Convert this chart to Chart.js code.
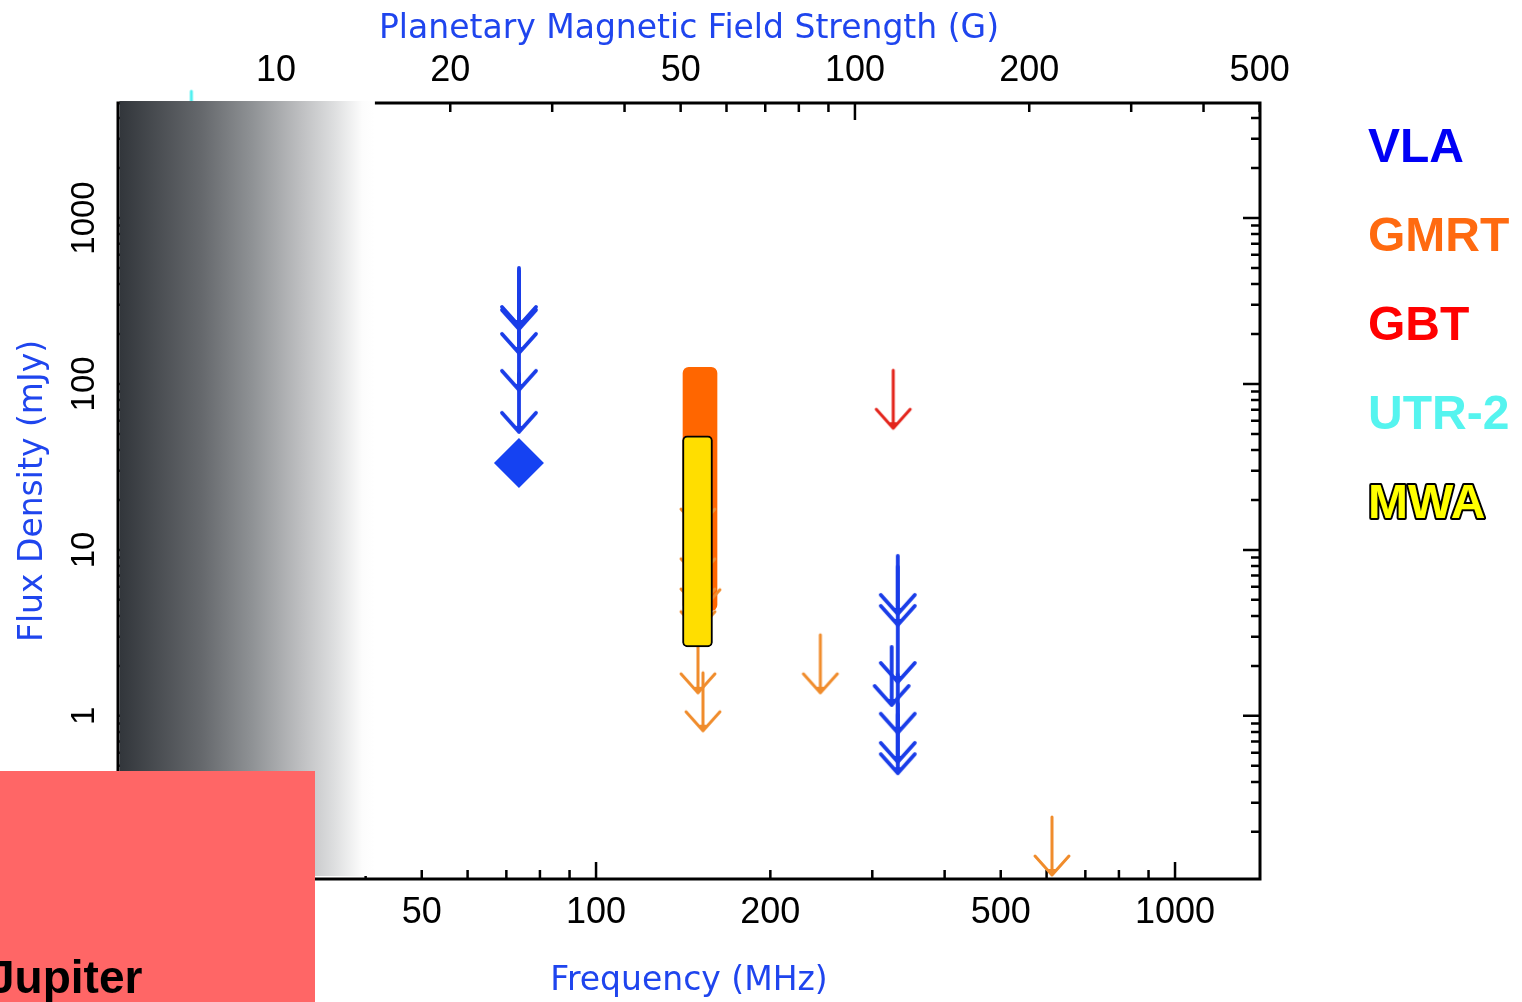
<!DOCTYPE html>
<html>
<head>
<meta charset="utf-8">
<title>Planetary radio emission limits</title>
<script src="https://cdn.jsdelivr.net/npm/chart.js@4.4.1/dist/chart.umd.min.js"></script>
<style>
  html, body { margin: 0; padding: 0; background: #fff; }
  #chart { display: block; }
</style>
</head>
<body>
<canvas id="chart" width="1522" height="1002"></canvas>
<script>
// axis ranges
const freqMin = 14.94;      // MHz
const freqMax = 1402;
const mhzPerGauss = 2.8;    // cyclotron frequency per gauss
const fluxMin = 0.104;      // mJy
const fluxMax = 4930;
const shadeEndFreq = 41.5;  // grey band ends here

// tick labels and tick marks
const freqTickLabels = [20, 50, 100, 200, 500, 1000];
const fieldTickLabels = [10, 20, 50, 100, 200, 500];
const fluxTickLabels = [1, 10, 100, 1000];
const freqTickMarks = [20, 30, 40, 50, 60, 70, 80, 90, 100, 200, 300, 400, 500, 600, 700, 800, 900, 1000];
const fieldTickMarks = [6, 7, 8, 9, 10, 20, 30, 40, 50, 60, 70, 80, 90, 100, 200, 300, 400, 500];
const fluxTickMarks = [0.2, 0.3, 0.4, 0.5, 0.6, 0.7, 0.8, 0.9, 1, 2, 3, 4, 5, 6, 7, 8, 9,
  10, 20, 30, 40, 50, 60, 70, 80, 90, 100, 200, 300, 400, 500, 600, 700, 800, 900, 1000, 2000, 3000, 4000];

// legend
const instruments = ['VLA', 'GMRT', 'GBT', 'UTR-2', 'MWA'];
const instrumentColors = ['#0000f5', '#ff6a10', '#ff0000', '#55f4ef', '#ffff00'];

// VLA: upper limits and one detection
const vlaLimitFreq = [73.6, 73.6, 73.6, 73.6, 73.6, 332, 332, 332, 332, 332, 332, 324];
const vlaLimitFlux = [500, 479, 344, 206, 115, 9.2, 7.9, 3.58, 1.77, 1.18, 1.01, 2.6];
const vlaDetFreq = [73.6];
const vlaDetFlux = [33.4];

// GMRT: upper limits and the 150 MHz range
const gmrtLimitFreq = [150, 150, 150, 150, 153, 150, 153, 244, 613];
const gmrtLimitFlux = [30.3, 15.2, 10.0, 7.3, 9.9, 3.08, 1.82, 3.08, 0.246];
const gmrtRangeFreq = [151.2];
const gmrtRangeFlux = [[4.3, 126]];

// GBT and UTR-2 upper limits
const gbtLimitFreq = [326];
const gbtLimitFlux = [121];
const utrLimitFreq = [20];
const utrLimitFlux = [5800];

// MWA range
const mwaRangeFreq = [149.7];
const mwaRangeFlux = [[2.6, 48.6]];

const titleBlue = '#1f45ee';
const titleFont = { family: '"DejaVu Sans", sans-serif', size: 33 };
const tickFont = { family: '"Liberation Sans", Arial, sans-serif', size: 36 };

const pairs = (xs, ys) => xs.map((x, i) => ({ x: x, y: ys[i] }));

// downward arrow for upper limits, the limit sits at the centre of the canvas
function arrowGlyph(color, width) {
  const len = 58, half = 17, headLen = 19;
  const c = document.createElement('canvas');
  c.width = 44;
  c.height = 2 * (len + 4);
  const g = c.getContext('2d');
  const cx = c.width / 2, cy = c.height / 2;
  g.strokeStyle = color;
  g.fillStyle = color;
  g.lineWidth = width;
  g.lineCap = 'round';
  g.lineJoin = 'round';
  g.beginPath();
  g.moveTo(cx, cy);
  g.lineTo(cx, cy + len);
  g.moveTo(cx - half, cy + len - headLen);
  g.lineTo(cx, cy + len);
  g.lineTo(cx + half, cy + len - headLen);
  g.stroke();
  // small solid tip
  g.beginPath();
  g.moveTo(cx, cy + len + 1);
  g.lineTo(cx - 4.5, cy + len - 6);
  g.lineTo(cx + 4.5, cy + len - 6);
  g.closePath();
  g.fill();
  return c;
}

const isDecade = v => Math.abs(Math.log10(v) - Math.round(Math.log10(v))) < 1e-9;

// inward tick marks and the frame
const tickMarks = {
  id: 'tickMarks',
  beforeDatasetsDraw(chart) {
    const { ctx, chartArea: a, scales } = chart;
    const len = v => (isDecade(v) ? 17 : 9);
    ctx.save();
    ctx.strokeStyle = '#000';
    ctx.lineWidth = 2.5;
    ctx.beginPath();
    freqTickMarks.forEach(v => {
      const px = scales.x.getPixelForValue(v);
      ctx.moveTo(px, a.bottom);
      ctx.lineTo(px, a.bottom - len(v));
    });
    fieldTickMarks.forEach(v => {
      const px = scales.x2.getPixelForValue(v);
      ctx.moveTo(px, a.top);
      ctx.lineTo(px, a.top + len(v));
    });
    fluxTickMarks.forEach(v => {
      const py = scales.y.getPixelForValue(v);
      ctx.moveTo(a.left, py);
      ctx.lineTo(a.left + len(v), py);
      ctx.moveTo(a.right, py);
      ctx.lineTo(a.right - len(v), py);
    });
    ctx.stroke();
    ctx.lineWidth = 3;
    ctx.strokeRect(a.left, a.top, a.right - a.left, a.bottom - a.top);
    ctx.restore();
  }
};

// grey band, Jupiter box and the instrument legend
const overlays = {
  id: 'overlays',
  afterDatasetsDraw(chart) {
    const { ctx, chartArea: a, scales } = chart;
    const x0 = a.left + 1.5;
    const x1 = scales.x.getPixelForValue(shadeEndFreq);
    const grad = ctx.createLinearGradient(x0, 0, x1, 0);
    grad.addColorStop(0, 'rgb(50,54,59)');
    grad.addColorStop(0.32, 'rgb(101,104,108)');
    grad.addColorStop(0.52, 'rgb(143,146,149)');
    grad.addColorStop(0.71, 'rgb(190,191,193)');
    grad.addColorStop(0.84, 'rgb(221,222,223)');
    grad.addColorStop(0.95, 'rgb(252,252,252)');
    grad.addColorStop(1, '#ffffff');
    ctx.save();
    ctx.fillStyle = grad;
    ctx.fillRect(x0, a.top - 2, x1 - x0, a.bottom - a.top - 1);
    ctx.restore();
  },
  afterDraw(chart) {
    const { ctx } = chart;
    ctx.save();
    ctx.fillStyle = '#ff6666';
    ctx.fillRect(0, 771, 315, 231);
    ctx.fillStyle = '#000';
    ctx.font = 'bold 46px "Liberation Sans", Arial, sans-serif';
    ctx.textBaseline = 'alphabetic';
    ctx.fillText('Jupiter', -11, 993);

    ctx.font = 'bold 48px "Liberation Sans", Arial, sans-serif';
    instruments.forEach((name, i) => {
      const y = 162 + i * 89;
      if (name === 'MWA') {
        ctx.lineWidth = 4;
        ctx.lineJoin = 'round';
        ctx.strokeStyle = '#000';
        ctx.strokeText(name, 1368, y);
      }
      ctx.fillStyle = instrumentColors[i];
      ctx.fillText(name, 1368, y);
    });
    ctx.restore();
  }
};

new Chart(document.getElementById('chart'), {
  type: 'scatter',
  data: {
    datasets: [
      {
        label: 'MWA', type: 'bar',
        data: pairs(mwaRangeFreq, mwaRangeFlux),
        backgroundColor: '#ffde00', borderColor: '#000', borderWidth: 2,
        borderRadius: 5, borderSkipped: false, barThickness: 30, grouped: false, order: 0
      },
      {
        label: 'GMRT limits',
        data: pairs(gmrtLimitFreq, gmrtLimitFlux),
        pointStyle: arrowGlyph('#f08c2c', 3), pointRadius: 30, clip: false, order: 1
      },
      {
        label: 'GMRT', type: 'bar',
        data: pairs(gmrtRangeFreq, gmrtRangeFlux),
        backgroundColor: '#ff6600', borderWidth: 0,
        borderRadius: 6, borderSkipped: false, barThickness: 34, grouped: false, order: 2
      },
      {
        label: 'VLA detection',
        data: pairs(vlaDetFreq, vlaDetFlux),
        pointStyle: 'rectRot', pointRadius: 25, backgroundColor: '#1542f2', borderWidth: 0, order: 3
      },
      {
        label: 'VLA limits',
        data: pairs(vlaLimitFreq, vlaLimitFlux),
        pointStyle: arrowGlyph('#1a3de8', 3.8), pointRadius: 30, clip: false, order: 4
      },
      {
        label: 'GBT limits',
        data: pairs(gbtLimitFreq, gbtLimitFlux),
        pointStyle: arrowGlyph('#e3241b', 3), pointRadius: 30, clip: false, order: 5
      },
      {
        label: 'UTR-2 limits',
        data: pairs(utrLimitFreq, utrLimitFlux),
        pointStyle: arrowGlyph('#4ff0f0', 3), pointRadius: 40, clip: false, order: 6
      }
    ]
  },
  options: {
    responsive: false,
    animation: false,
    events: [],
    layout: { padding: { left: 0, top: 0, right: 262, bottom: 0 } },
    plugins: { legend: { display: false }, tooltip: { enabled: false } },
    scales: {
      x: {
        type: 'logarithmic', position: 'bottom', min: freqMin, max: freqMax, offset: false,
        grid: { display: false, drawTicks: false, offset: false },
        border: { display: false },
        afterBuildTicks: s => { s.ticks = freqTickLabels.map(v => ({ value: v })); },
        afterFit: s => { s.height = 123; },
        ticks: {
          autoSkip: false, minRotation: 0, maxRotation: 0, padding: 12,
          color: '#000', font: tickFont, callback: v => String(v)
        },
        title: {
          display: true, text: 'Frequency (MHz)', color: titleBlue, font: titleFont,
          padding: { top: 0, bottom: 1 }
        }
      },
      x2: {
        type: 'logarithmic', position: 'top',
        min: freqMin / mhzPerGauss, max: freqMax / mhzPerGauss, offset: false,
        grid: { display: false, drawTicks: false },
        border: { display: false },
        afterBuildTicks: s => { s.ticks = fieldTickLabels.map(v => ({ value: v })); },
        afterFit: s => { s.height = 103; },
        ticks: {
          autoSkip: false, minRotation: 0, maxRotation: 0, padding: 10,
          color: '#000', font: tickFont, callback: v => String(v)
        },
        title: {
          display: true, text: 'Planetary Magnetic Field Strength (G)', color: titleBlue, font: titleFont,
          padding: { top: 10, bottom: 0 }
        }
      },
      y: {
        type: 'logarithmic', position: 'left', min: fluxMin, max: fluxMax,
        grid: { display: false, drawTicks: false },
        border: { display: false },
        afterBuildTicks: s => { s.ticks = fluxTickLabels.map(v => ({ value: v })); },
        afterFit: s => { s.width = 118; },
        ticks: {
          autoSkip: false, minRotation: 90, maxRotation: 90, crossAlign: 'center', padding: -4,
          color: '#000', font: { family: '"Liberation Sans", Arial, sans-serif', size: 33 },
          callback: v => String(v)
        },
        title: {
          display: true, text: 'Flux Density (mJy)', color: titleBlue, font: titleFont,
          padding: { top: 14, bottom: 0 }
        }
      }
    }
  },
  plugins: [tickMarks, overlays]
});
</script>
</body>
</html>
